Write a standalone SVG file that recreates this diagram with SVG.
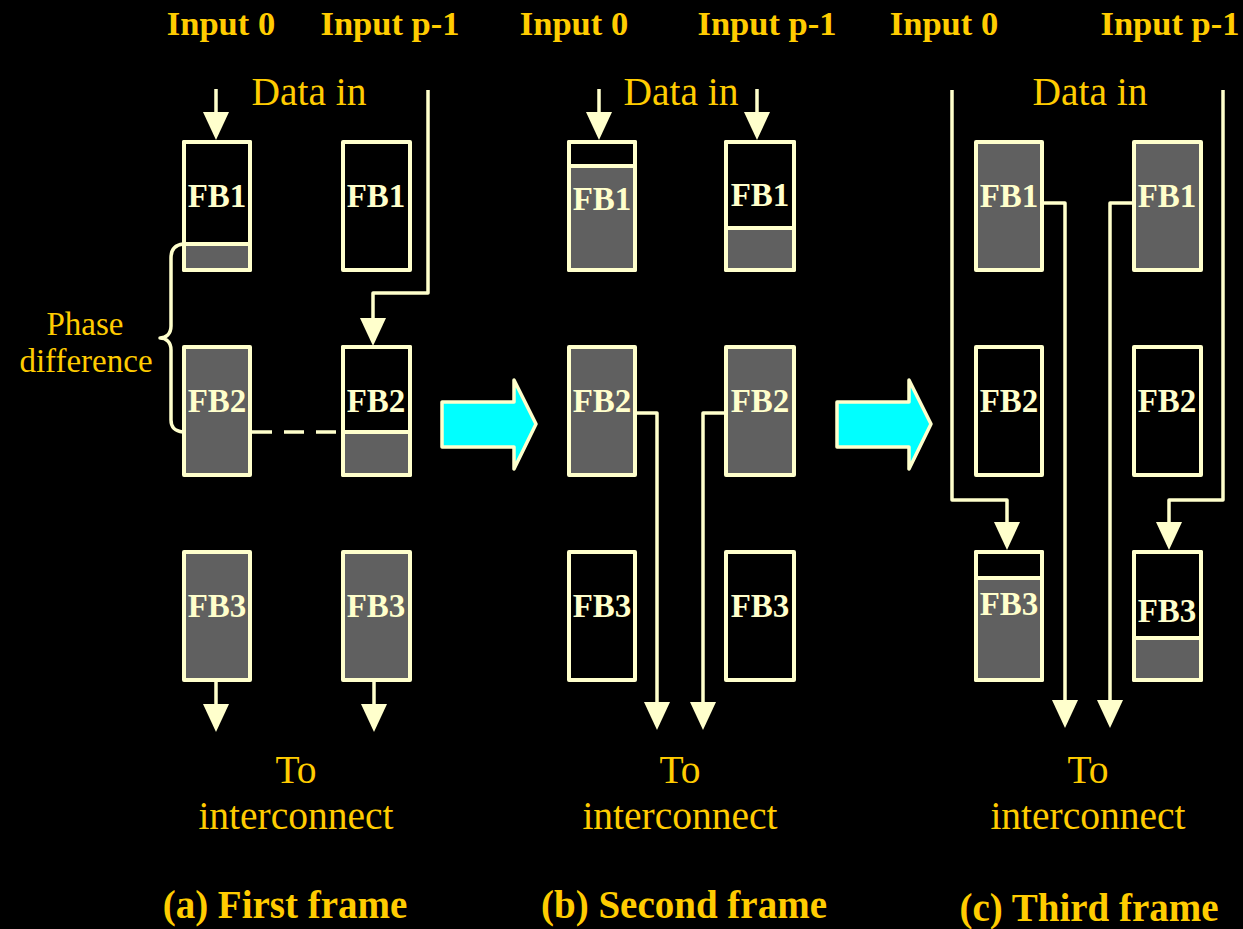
<svg xmlns="http://www.w3.org/2000/svg" width="1243" height="929" viewBox="0 0 1243 929">
  <defs>
    <style>
      .bg { fill: #000000; }
      .box { fill: #000000; stroke: #FFFFCC; stroke-width: 4; stroke-linejoin: round; }
      .box.full { fill: #606060; }
      .part { fill: #606060; }
      .outline { fill: none; stroke: #FFFFCC; stroke-width: 4; stroke-linejoin: round; }
      .div { stroke: #FFFFCC; stroke-width: 4; }
      .lbl { font-family: "Liberation Serif", "Times New Roman", serif; font-weight: bold; font-size: 33px; fill: #FFFFCC; text-anchor: middle; }
      .wire { fill: none; stroke: #FFFFCC; stroke-width: 3.5; stroke-linejoin: round; stroke-linecap: round; }
      .arrowed { marker-end: url(#head); stroke-linecap: butt; }
      .dash { stroke-dasharray: 20 12; stroke-linecap: butt; }
      .big { fill: #00FFFF; stroke: #FFFFCC; stroke-width: 3.5; stroke-linejoin: round; }
      .hdr { font-family: "Liberation Serif", "Times New Roman", serif; font-weight: bold; font-size: 34.5px; fill: #FFCC00; text-anchor: middle; }
      .note { font-family: "Liberation Serif", "Times New Roman", serif; font-size: 39.5px; fill: #FFCC00; text-anchor: middle; }
      .small { font-family: "Liberation Serif", "Times New Roman", serif; font-size: 33px; fill: #FFCC00; text-anchor: middle; }
      .cap { font-family: "Liberation Serif", "Times New Roman", serif; font-weight: bold; font-size: 39px; fill: #FFCC00; text-anchor: middle; }
    </style>
    <marker id="head" viewBox="0 0 28 26" refX="22" refY="13" markerWidth="28" markerHeight="26" markerUnits="userSpaceOnUse" orient="auto">
      <path d="M0,0 L28,13 L0,26 Z" fill="#FFFFCC"/>
    </marker>
  </defs>

  <rect class="bg" x="0" y="0" width="1243" height="929"/>

  <!-- column headings -->
  <g id="headings">
    <text class="hdr" x="221" y="35">Input 0</text>
    <text class="hdr" x="390" y="35">Input p-1</text>
    <text class="hdr" x="574" y="35">Input 0</text>
    <text class="hdr" x="767" y="35">Input p-1</text>
    <text class="hdr" x="944" y="35">Input 0</text>
    <text class="hdr" x="1170" y="35">Input p-1</text>
    <text class="note" x="309" y="105">Data in</text>
    <text class="note" x="681" y="105">Data in</text>
    <text class="note" x="1090" y="105">Data in</text>
  </g>

  <!-- (a) first frame -->
  <g id="a-in0-fb1">
    <rect class="box" x="184" y="142" width="66" height="128"/>
    <rect class="part" x="184" y="244" width="66" height="26"/>
    <line class="div" x1="184" y1="244" x2="250" y2="244"/>
    <rect class="outline" x="184" y="142" width="66" height="128"/>
    <text class="lbl" x="217" y="207">FB1</text>
  </g>
  <g id="a-inp-fb1">
    <rect class="box" x="343" y="142" width="67" height="128"/>
    <text class="lbl" x="376" y="207">FB1</text>
  </g>
  <g id="a-in0-fb2">
    <rect class="box full" x="184" y="347" width="66" height="128"/>
    <text class="lbl" x="217" y="412">FB2</text>
  </g>
  <g id="a-inp-fb2">
    <rect class="box" x="343" y="347" width="67" height="128"/>
    <rect class="part" x="343" y="432" width="67" height="43"/>
    <line class="div" x1="343" y1="432" x2="410" y2="432"/>
    <rect class="outline" x="343" y="347" width="67" height="128"/>
    <text class="lbl" x="376" y="412">FB2</text>
  </g>
  <g id="a-in0-fb3">
    <rect class="box full" x="184" y="552" width="66" height="128"/>
    <text class="lbl" x="217" y="617">FB3</text>
  </g>
  <g id="a-inp-fb3">
    <rect class="box full" x="343" y="552" width="67" height="128"/>
    <text class="lbl" x="376" y="617">FB3</text>
  </g>
  <g id="a-phase">
    <text class="small" x="85" y="335">Phase</text>
    <text class="small" x="86" y="372">difference</text>
  </g>

  <!-- (b) second frame -->
  <g id="b-in0-fb1">
    <rect class="box" x="569" y="142" width="66" height="128"/>
    <rect class="part" x="569" y="166" width="66" height="104"/>
    <line class="div" x1="569" y1="166" x2="635" y2="166"/>
    <rect class="outline" x="569" y="142" width="66" height="128"/>
    <text class="lbl" x="602" y="210">FB1</text>
  </g>
  <g id="b-inp-fb1">
    <rect class="box" x="726" y="142" width="68" height="128"/>
    <rect class="part" x="726" y="228" width="68" height="42"/>
    <line class="div" x1="726" y1="228" x2="794" y2="228"/>
    <rect class="outline" x="726" y="142" width="68" height="128"/>
    <text class="lbl" x="760" y="206">FB1</text>
  </g>
  <g id="b-in0-fb2">
    <rect class="box full" x="569" y="347" width="66" height="128"/>
    <text class="lbl" x="602" y="412">FB2</text>
  </g>
  <g id="b-inp-fb2">
    <rect class="box full" x="726" y="347" width="68" height="128"/>
    <text class="lbl" x="760" y="412">FB2</text>
  </g>
  <g id="b-in0-fb3">
    <rect class="box" x="569" y="552" width="66" height="128"/>
    <text class="lbl" x="602" y="617">FB3</text>
  </g>
  <g id="b-inp-fb3">
    <rect class="box" x="726" y="552" width="68" height="128"/>
    <text class="lbl" x="760" y="617">FB3</text>
  </g>

  <!-- (c) third frame -->
  <g id="c-in0-fb1">
    <rect class="box full" x="976" y="142" width="66" height="128"/>
    <text class="lbl" x="1009" y="207">FB1</text>
  </g>
  <g id="c-inp-fb1">
    <rect class="box full" x="1134" y="142" width="67" height="128"/>
    <text class="lbl" x="1167" y="207">FB1</text>
  </g>
  <g id="c-in0-fb2">
    <rect class="box" x="976" y="347" width="66" height="128"/>
    <text class="lbl" x="1009" y="412">FB2</text>
  </g>
  <g id="c-inp-fb2">
    <rect class="box" x="1134" y="347" width="67" height="128"/>
    <text class="lbl" x="1167" y="412">FB2</text>
  </g>
  <g id="c-in0-fb3">
    <rect class="box" x="976" y="552" width="66" height="128"/>
    <rect class="part" x="976" y="578" width="66" height="102"/>
    <line class="div" x1="976" y1="578" x2="1042" y2="578"/>
    <rect class="outline" x="976" y="552" width="66" height="128"/>
    <text class="lbl" x="1009" y="615">FB3</text>
  </g>
  <g id="c-inp-fb3">
    <rect class="box" x="1134" y="552" width="67" height="128"/>
    <rect class="part" x="1134" y="638" width="67" height="42"/>
    <line class="div" x1="1134" y1="638" x2="1201" y2="638"/>
    <rect class="outline" x="1134" y="552" width="67" height="128"/>
    <text class="lbl" x="1167" y="622">FB3</text>
  </g>

  <!-- transitions between frames -->
  <g id="next-1">
    <polygon class="big" points="442,402 514,402 514,380 536,424 514,469 514,447 442,447"/>
  </g>
  <g id="next-2">
    <polygon class="big" points="837,402 909,402 909,380 931,424 909,469 909,447 837,447"/>
  </g>

  <!-- connectors -->
  <g id="connectors">
    <!-- (a) -->
    <path class="wire arrowed" d="M216,89 V134"/>
    <path class="wire arrowed" d="M428,90 V293 H373 V340"/>
    <path class="wire arrowed" d="M216,682 V726"/>
    <path class="wire arrowed" d="M374,682 V726"/>
    <path class="wire dash" d="M252,432 H341"/>
    <path class="wire" d="M183,244 C174,245 171,250 171,258 V326 C171,334 166,338 160,338 C166,338 171,342 171,350 V420 C171,427 174,431 183,432"/>
    <!-- (b) -->
    <path class="wire arrowed" d="M599,89 V134"/>
    <path class="wire arrowed" d="M757,89 V134"/>
    <path class="wire arrowed" d="M637,413 H657 V724"/>
    <path class="wire arrowed" d="M724,413 H703 V724"/>
    <!-- (c) -->
    <path class="wire arrowed" d="M952,90 V500 H1007 V544"/>
    <path class="wire arrowed" d="M1223,90 V500 H1169 V544"/>
    <path class="wire arrowed" d="M1044,203 H1065 V722"/>
    <path class="wire arrowed" d="M1132,203 H1110 V722"/>
  </g>

  <!-- outputs and captions -->
  <g id="captions">
    <text class="note" x="296" y="783">To</text>
    <text class="note" x="296" y="829">interconnect</text>
    <text class="note" x="680" y="783">To</text>
    <text class="note" x="680" y="829">interconnect</text>
    <text class="note" x="1088" y="783">To</text>
    <text class="note" x="1088" y="829">interconnect</text>
    <text class="cap" x="285" y="918">(a) First frame</text>
    <text class="cap" x="684" y="918">(b) Second frame</text>
    <text class="cap" x="1089" y="921">(c) Third frame</text>
  </g>
</svg>
